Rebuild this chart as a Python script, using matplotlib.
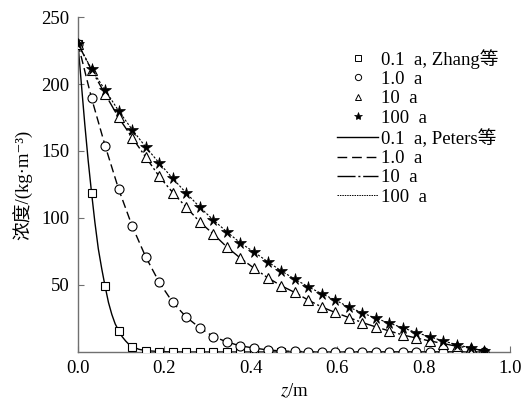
import matplotlib
matplotlib.use("Agg")
import matplotlib.pyplot as plt
from matplotlib.lines import Line2D

plt.rcParams['font.family'] = ['Liberation Serif', 'Noto Sans CJK SC', 'DejaVu Sans']
plt.rcParams['mathtext.fontset'] = 'stix'

# ---- data ----
z = [0.0, 0.0313, 0.0627, 0.094, 0.1253, 0.1567, 0.188, 0.2193, 0.2507, 0.282,
     0.3133, 0.3447, 0.376, 0.4073, 0.4387, 0.47, 0.5013, 0.5327, 0.564, 0.5953,
     0.6267, 0.658, 0.6893, 0.7207, 0.752, 0.7833, 0.8147, 0.846, 0.8773, 0.9087, 0.94]

zhang_01 = [230, 119, 49, 16, 4, 1.0, 0.3, 0.1, 0, 0, 0, 0, 0, 0, 0, 0]
zhang_1 = [230, 189.5, 154, 121.6, 94, 71, 52, 37, 26, 18, 11.5, 7.5, 4.5, 3.0, 1.5, 0.8,
           0.4, 0.2, 0.1, 0, 0, 0, 0, 0, 0, 0, 0, 0, 0, 0, 0]
zhang_10 = [230, 210.5, 192.5, 175, 160, 145.5, 131, 119, 108, 97, 88, 78.3, 70, 62.6,
            55.5, 49.5, 44.5, 38.8, 33.6, 29.5, 25.7, 22, 18.7, 15.7, 12.7, 10.4, 8.2,
            6.3, 4.2, 3.0, 0.7]
zhang_100 = [230, 211, 195.5, 180, 166, 153, 141, 129.5, 118.6, 108, 98.5, 89.6, 81.4,
             74.6, 67.5, 60.6, 54.5, 48.7, 43.5, 38.8, 33.5, 29.2, 25.2, 21.5, 18, 14.5,
             11.3, 8.2, 5.4, 3.0, 0.8]

# Peters et al. curves
z_p01 = [0.0, 0.0078, 0.0157, 0.0235, 0.0313, 0.039, 0.047, 0.055, 0.0627, 0.0705,
         0.0783, 0.086, 0.094, 0.102, 0.11, 0.1175, 0.1253, 0.141, 0.1567, 0.188,
         0.2193, 0.2507, 0.3133, 0.47, 0.6267, 0.7833, 0.94]
peters_01 = [230, 200, 170, 143, 119, 97, 77, 62, 49, 37, 28, 21, 16, 11.5, 8.3, 5.8,
             4, 2.0, 1.0, 0.3, 0.1, 0, 0, 0, 0, 0, 0]
peters_1 = zhang_1
peters_10 = zhang_10
peters_100 = zhang_100

legend_labels = ['0.1  a, Zhang等', '1.0  a', '10  a', '100  a',
                 '0.1  a, Peters等', '1.0  a', '10  a', '100  a']

FS = 13.5

# ---- figure ----
fig = plt.figure(figsize=(5.31, 4.03), dpi=100)
ax = fig.add_axes([0.1469, 0.1266, 0.8136, 0.8312])

ax.plot(z_p01, peters_01, color='black', lw=1.0, ls='-', zorder=2)
ax.plot(z, peters_1, color='black', lw=1.0, ls=(0, (6, 3)), zorder=2)
ax.plot(z, peters_10, color='black', lw=1.0, ls=(0, (10, 2, 1.5, 2)), zorder=2)
ax.plot(z, peters_100, color='black', lw=0.8, ls=(0, (2, 1.5)), zorder=2)

ax.plot(z[:len(zhang_01)], zhang_01, ls='none', marker='s', ms=5.5, mfc='white',
        mec='black', mew=0.8, zorder=3)
ax.plot(z, zhang_1, ls='none', marker='o', ms=6.5, mfc='white', mec='black', mew=0.8, zorder=3)
ax.plot(z, zhang_10, ls='none', marker='^', ms=7.5, mfc='white', mec='black', mew=0.8, zorder=3)
ax.plot(z, zhang_100, ls='none', marker='*', ms=8.5, mfc='black', mec='black', mew=0.5, zorder=4)

ax.set_xlim(0, 1.0)
ax.set_ylim(0, 250)
ax.set_xticks([0.0, 0.2, 0.4, 0.6, 0.8, 1.0])
ax.set_xticklabels(['0.0', '0.2', '0.4', '0.6', '0.8', '1.0'])
ax.set_yticks([50, 100, 150, 200, 250])

for s in ['top', 'right']:
    ax.spines[s].set_visible(False)
for s in ['left', 'bottom']:
    ax.spines[s].set_color('#707070')
    ax.spines[s].set_linewidth(1.0)
ax.tick_params(direction='in', length=4, width=0.8, color='#707070', labelsize=FS, pad=6)

ax.set_xlabel('$z$/m', fontsize=FS, labelpad=3)
ax.set_ylabel('浓度/(kg·m⁻³)', fontsize=FS, labelpad=6)

handles = [
    Line2D([], [], ls='none', marker='s', ms=4, mfc='white', mec='black', mew=0.7),
    Line2D([], [], ls='none', marker='o', ms=4.5, mfc='white', mec='black', mew=0.7),
    Line2D([], [], ls='none', marker='^', ms=5, mfc='white', mec='black', mew=0.7),
    Line2D([], [], ls='none', marker='*', ms=6, mfc='black', mec='black', mew=0.5),
    Line2D([], [], color='black', lw=1.0, ls='-'),
    Line2D([], [], color='black', lw=1.0, ls=(0, (7, 3.5))),
    Line2D([], [], color='black', lw=1.0, ls=(0, (13, 2, 1.5, 2))),
    Line2D([], [], color='black', lw=0.7, ls=(0, (1.5, 1))),
]
ax.legend(handles, legend_labels, loc='upper left', bbox_to_anchor=(0.6, 0.905),
          frameon=False, fontsize=FS, handlelength=2.2, handletextpad=0.15,
          labelspacing=0.12, borderaxespad=0, borderpad=0)

fig.savefig('out.png', dpi=100)
